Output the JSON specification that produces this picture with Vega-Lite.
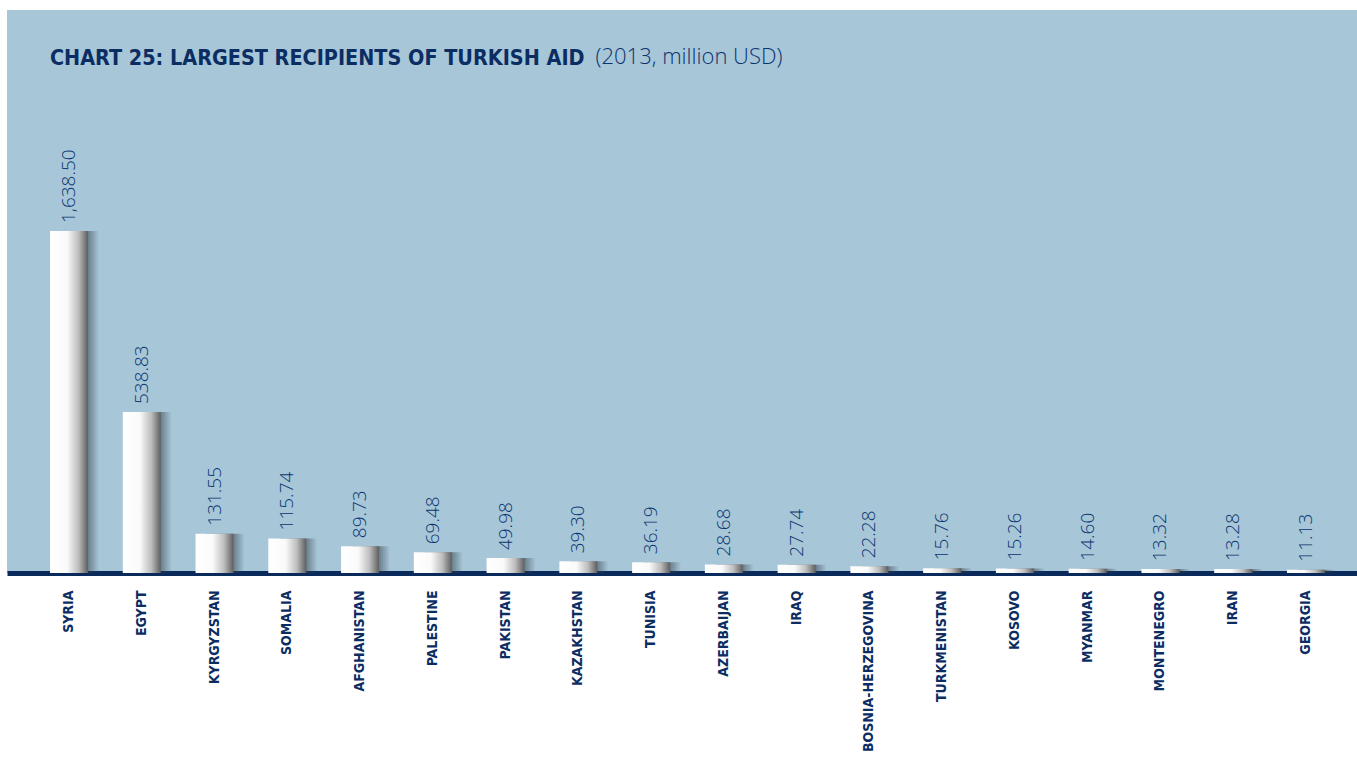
{
  "$schema": "https://vega.github.io/schema/vega-lite/v6.json",
  "width": 1350,
  "height": 563,
  "autosize": {"type": "none"},
  "padding": {"left": 7, "top": 10, "right": 0, "bottom": 187},
  "background": "#ffffff",
  "config": {"view": {"fill": "#a7c6d8", "stroke": null}},
  "title": {
    "text": "CHART 25: LARGEST RECIPIENTS OF TURKISH AID",
    "anchor": "start",
    "frame": "group",
    "orient": "top",
    "offset": -76,
    "dx": 43,
    "baseline": "alphabetic",
    "font": "DejaVu Sans Condensed, Roboto, sans-serif",
    "fontSize": 21.4,
    "fontWeight": "bold",
    "color": "#0b2d62"
  },
  "data": {
    "values": [
      {"country": "SYRIA", "value": 1638.50},
      {"country": "EGYPT", "value": 538.83},
      {"country": "KYRGYZSTAN", "value": 131.55},
      {"country": "SOMALIA", "value": 115.74},
      {"country": "AFGHANISTAN", "value": 89.73},
      {"country": "PALESTINE", "value": 69.48},
      {"country": "PAKISTAN", "value": 49.98},
      {"country": "KAZAKHSTAN", "value": 39.30},
      {"country": "TUNISIA", "value": 36.19},
      {"country": "AZERBAIJAN", "value": 28.68},
      {"country": "IRAQ", "value": 27.74},
      {"country": "BOSNIA-HERZEGOVINA", "value": 22.28},
      {"country": "TURKMENISTAN", "value": 15.76},
      {"country": "KOSOVO", "value": 15.26},
      {"country": "MYANMAR", "value": 14.60},
      {"country": "MONTENEGRO", "value": 13.32},
      {"country": "IRAN", "value": 13.28},
      {"country": "GEORGIA", "value": 11.13}
    ]
  },
  "encoding": {
    "x": {
      "field": "country",
      "type": "nominal",
      "sort": null,
      "scale": {"paddingInner": 0.478, "paddingOuter": 0.516, "align": 0.573},
      "axis": {
        "title": null,
        "labelAngle": -90,
        "labelAlign": "right",
        "labelBaseline": "middle",
        "labelFont": "DejaVu Sans Condensed, Roboto, sans-serif",
        "labelFontSize": 14,
        "labelFontWeight": "bold",
        "labelColor": "#0b2d62",
        "labelPadding": 17,
        "labelLimit": 400,
        "ticks": false,
        "domainColor": "#0a2a5c",
        "domainWidth": 5,
        "labelOverlap": false
      }
    },
    "y": {
      "field": "value",
      "type": "quantitative",
      "scale": {"domain": [0, 1145], "range": [563, 221], "clamp": true, "nice": false},
      "axis": {
        "title": "(2013, million USD)",
        "domain": false,
        "labels": false,
        "ticks": false,
        "grid": false,
        "titleAngle": 0,
        "titleAlign": "left",
        "titleBaseline": "alphabetic",
        "titleX": 588,
        "titleY": 53,
        "titleFont": "Open Sans",
        "titleFontWeight": 300,
        "titleFontSize": 22,
        "titleColor": "#0a3470"
      }
    }
  },
  "layer": [
    {
      "mark": {
        "type": "bar",
        "xOffset": 11,
        "x2Offset": 11,
        "fill": {
          "gradient": "linear",
          "x1": 0, "y1": 0, "x2": 1, "y2": 0,
          "stops": [
            {"offset": 0, "color": "rgba(50,60,70,0.6)"},
            {"offset": 0.72, "color": "rgba(50,60,70,0.5)"},
            {"offset": 1, "color": "rgba(50,60,70,0)"}
          ]
        }
      }
    },
    {
      "mark": {
        "type": "bar",
        "fill": {
          "gradient": "linear",
          "x1": 0, "y1": 0, "x2": 1, "y2": 0,
          "stops": [
            {"offset": 0, "color": "#ffffff"},
            {"offset": 0.45, "color": "#fafafa"},
            {"offset": 0.75, "color": "#bdbdbd"},
            {"offset": 1, "color": "#5e5e5e"}
          ]
        }
      }
    },
    {
      "mark": {
        "type": "text",
        "angle": -90,
        "align": "left",
        "baseline": "middle",
        "dx": 8,
        "font": "Open Sans",
        "fontWeight": 300,
        "fontSize": 19,
        "color": "#0a3470"
      },
      "encoding": {
        "text": {"field": "value", "type": "quantitative", "format": ",.2f"}
      }
    }
  ]
}
